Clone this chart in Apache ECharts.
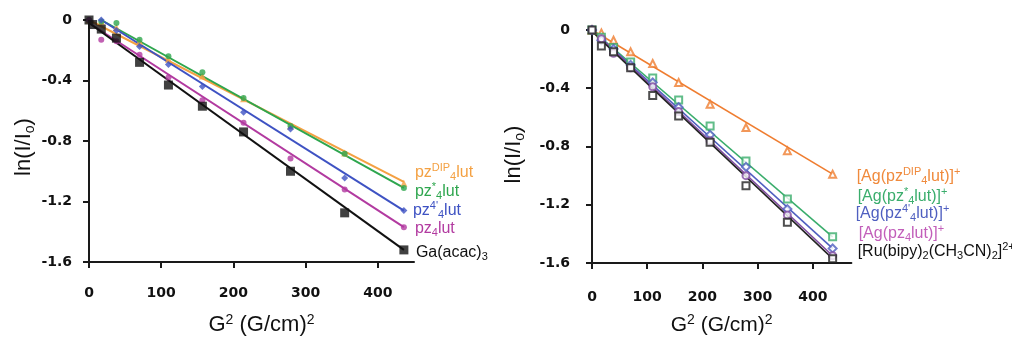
<!DOCTYPE html>
<html>
<head>
<meta charset="utf-8">
<script src="https://cdn.jsdelivr.net/npm/echarts@6/dist/echarts.min.js"></script>
<style>
  html, body { margin: 0; padding: 0; background: #fff; }
  #chart { width: 1012px; height: 342px; }
</style>
</head>
<body>
<div id="chart"></div>
<script>
// G^2 values, (G/cm)^2
const gLeft = [0, 5, 17, 38, 70, 110, 157, 214, 279, 354, 436]
const gRight = [0, 17, 39, 70, 110, 157, 214, 279, 354, 436]

// left panel: ln(I/Io) for the free ligands + Ga(acac)3
const leftDIP = [0, null, -0.01, -0.05, -0.14, -0.26, -0.37, -0.52, -0.70, -0.88, -1.08]
const leftStar = [0, null, -0.01, -0.02, -0.13, -0.24, -0.345, -0.515, -0.70, -0.885, -1.11]
const left4p = [0, null, 0, -0.07, -0.175, -0.295, -0.44, -0.61, -0.72, -1.045, -1.26]
const leftPz = [0, null, -0.13, -0.14, -0.23, -0.38, -0.53, -0.68, -0.915, -1.12, -1.37]
const leftGa = [0, -0.03, -0.06, -0.12, -0.28, -0.43, -0.57, -0.74, -1.0, -1.275, -1.52]

// left panel trend lines [x, y] ends
const leftFitDIP = [[0, 0], [436, -1.07]]
const leftFitStar = [[17, 0], [436, -1.11]]
const leftFit4p = [[17, 0], [436, -1.26]]
const leftFitPz = [[0, -0.02], [436, -1.37]]
const leftFitGa = [[0, -0.02], [436, -1.52]]

// right panel: silver complexes + Ru reference
const rightDIP = [0, -0.02, -0.07, -0.15, -0.23, -0.36, -0.51, -0.67, -0.83, -0.99]
const rightStar = [0, -0.05, -0.12, -0.22, -0.33, -0.48, -0.66, -0.90, -1.16, -1.42]
const right4p = [0, -0.07, -0.13, -0.24, -0.36, -0.53, -0.72, -0.94, -1.23, -1.50]
const rightPz = [0, -0.06, -0.16, -0.26, -0.39, -0.56, -0.76, -1.00, -1.27, -1.55]
const rightRu = [0, -0.11, -0.15, -0.26, -0.45, -0.59, -0.77, -1.07, -1.32, -1.57]

const rightFitDIP = [[0, 0], [436, -0.99]]
const rightFitStar = [[0, 0], [436, -1.42]]
const rightFit4p = [[0, 0], [436, -1.50]]
const rightFitPz = [[0, 0], [436, -1.55]]
const rightFitRu = [[0, -0.01], [436, -1.57]]

const xTicks = [0, 100, 200, 300, 400]

const leftNames = [
  'pz{sup|DIP}{sub|4}lut',
  'pz{sup|*}{sub|4}lut',
  "pz{sup|4'}{sub|4}lut",
  'pz{sub|4}lut',
  'Ga(acac){sub|3}'
]
const rightNames = [
  '[Ag(pz{sup|DIP}{sub|4}lut)]{sup|+}',
  '[Ag(pz{sup|*}{sub|4}lut)]{sup|+}',
  "[Ag(pz{sup|4'}{sub|4}lut)]{sup|+}",
  '[Ag(pz{sub|4}lut)]{sup|+}',
  '[Ru(bipy){sub|2}(CH{sub|3}CN){sub|2}]{sup|2+}'
]

const myChart = echarts.init(document.getElementById('chart'))

function richFor (color, size) {
  const small = Math.round(size * 0.68)
  return {
    sub: { color: color, fontSize: small, lineHeight: small, verticalAlign: 'bottom', fontFamily: 'Liberation Sans' },
    sup: { color: color, fontSize: small, lineHeight: small, verticalAlign: 'top', fontFamily: 'Liberation Sans' }
  }
}

function pairs (xs, ys) {
  return xs.map((x, i) => [x, ys[i]]).filter(p => p[1] !== null)
}

// series style: colour, marker, label offset from the trend line end
const leftSets = [
  { ys: leftDIP, fit: leftFitDIP, name: leftNames[0], color: '#f4a143', symbol: 'triangle', size: 7, off: [11, -9] },
  { ys: leftStar, fit: leftFitStar, name: leftNames[1], color: '#2ea64e', symbol: 'circle', size: 6, off: [11, 4] },
  { ys: left4p, fit: leftFit4p, name: leftNames[2], color: '#3e52c3', symbol: 'diamond', size: 7, off: [9, 0] },
  { ys: leftPz, fit: leftFitPz, name: leftNames[3], color: '#b23aa0', symbol: 'circle', size: 6, off: [11, 1] },
  { ys: leftGa, fit: leftFitGa, name: leftNames[4], color: '#111111', symbol: 'rect', size: 9, off: [12, 3] }
]
const rightSets = [
  { ys: rightDIP, fit: rightFitDIP, name: rightNames[0], color: '#ef7d30', label: '#f08a3c', symbol: 'emptyTriangle', size: 7, off: [24, 2] },
  { ys: rightStar, fit: rightFitStar, name: rightNames[1], color: '#3aad6c', label: '#3aad6c', symbol: 'emptyRect', size: 7, off: [25, -40] },
  { ys: right4p, fit: rightFit4p, name: rightNames[2], color: '#4f5fc0', label: '#4f5fc0', symbol: 'emptyDiamond', size: 8, off: [23, -35] },
  { ys: rightPz, fit: rightFitPz, name: rightNames[3], color: '#7f4aa0', label: '#c25fba', symbol: 'emptyCircle', size: 7, off: [26, -22] },
  { ys: rightRu, fit: rightFitRu, name: rightNames[4], color: '#222222', label: '#111111', symbol: 'emptyRect', size: 7, off: [25, -7] }
]

const series = []
function addPanel (sets, xs, idx, lineWidth) {
  // trend lines first, points on top
  sets.forEach(s => {
    const lc = s.label || s.color
    series.push({
      type: 'line',
      xAxisIndex: idx,
      yAxisIndex: idx,
      data: [
        { value: s.fit[0] },
        {
          value: s.fit[1],
          label: {
            show: true,
            position: 'right',
            distance: 0,
            offset: s.off,
            formatter: s.name,
            color: lc,
            fontSize: 16,
            lineHeight: 20,
            fontFamily: 'Liberation Sans',
            rich: richFor(lc, 16)
          }
        }
      ],
      symbol: 'circle',
      symbolSize: 0,
      showSymbol: true,
      lineStyle: { color: s.color, width: lineWidth },
      itemStyle: { color: s.color },
      silent: true,
      animation: false
    })
  })
  sets.forEach(s => {
    series.push({
      type: 'scatter',
      xAxisIndex: idx,
      yAxisIndex: idx,
      data: pairs(xs, s.ys),
      symbol: s.symbol,
      symbolSize: s.size,
      itemStyle: { color: s.color, borderWidth: 1.3 },
      z: 3,
      animation: false
    })
  })
}
addPanel(leftSets, gLeft, 0, 2)
addPanel(rightSets, gRight, 1, 1.6)

const tickFont = { fontFamily: 'DejaVu Sans', fontWeight: 'bold', fontSize: 14, color: '#111' }
const titleRich = {
  sup: { fontSize: 14, lineHeight: 14, verticalAlign: 'top', fontFamily: 'Liberation Sans', color: '#111' },
  sub: { fontSize: 14, lineHeight: 14, verticalAlign: 'bottom', fontFamily: 'Liberation Sans', color: '#111' }
}

function xAxisFor (gridIndex, max, margin, gap, pad, size) {
  return {
    gridIndex: gridIndex,
    type: 'value',
    min: 0,
    max: max,
    interval: 100,
    axisLine: { show: true, onZero: false, lineStyle: { color: '#1a1a1a', width: 2 } },
    axisTick: { show: true, customValues: xTicks, length: 6, lineStyle: { color: '#1a1a1a', width: 2 } },
    axisLabel: Object.assign({ customValues: xTicks, margin: margin }, tickFont),
    splitLine: { show: false },
    name: 'G{sup|2} (G/cm){sup|2}',
    nameLocation: 'middle',
    nameGap: gap,
    nameTextStyle: {
      fontFamily: 'Liberation Sans', fontSize: size, lineHeight: 24, color: '#111',
      padding: pad, rich: titleRich
    }
  }
}
function yAxisFor (gridIndex, margin, gap, pad) {
  return {
    gridIndex: gridIndex,
    type: 'value',
    min: -1.6,
    max: 0,
    interval: 0.4,
    axisLine: { show: true, onZero: false, lineStyle: { color: '#1a1a1a', width: 2 } },
    axisTick: { show: true, length: 6, lineStyle: { color: '#1a1a1a', width: 2 } },
    axisLabel: Object.assign({ margin: margin }, tickFont),
    splitLine: { show: false },
    name: 'ln(I/I{sub|o})',
    nameLocation: 'middle',
    nameGap: gap,
    nameTextStyle: {
      fontFamily: 'Liberation Sans', fontSize: 22, lineHeight: 26, color: '#111',
      padding: pad, rich: titleRich
    }
  }
}

const option = {
  backgroundColor: '#ffffff',
  animation: false,
  grid: [
    { left: 89, top: 20, width: 325, height: 244 },
    { left: 592, top: 30, width: 259.4, height: 238 }
  ],
  xAxis: [
    xAxisFor(0, 450, 24, 51, [0, 0, 0, 20], 22),
    xAxisFor(1, 470, 27, 50, [0, 0, 0, 0], 21)
  ],
  yAxis: [
    yAxisFor(0, 17, 52, [0, 12, 0, 0]),
    yAxisFor(1, 22, 65, [0, 16, 0, 0])
  ],
  series: series
}
myChart.setOption(option)
window.addEventListener('resize', function () {
  myChart.resize()
})
</script>
</body>
</html>
